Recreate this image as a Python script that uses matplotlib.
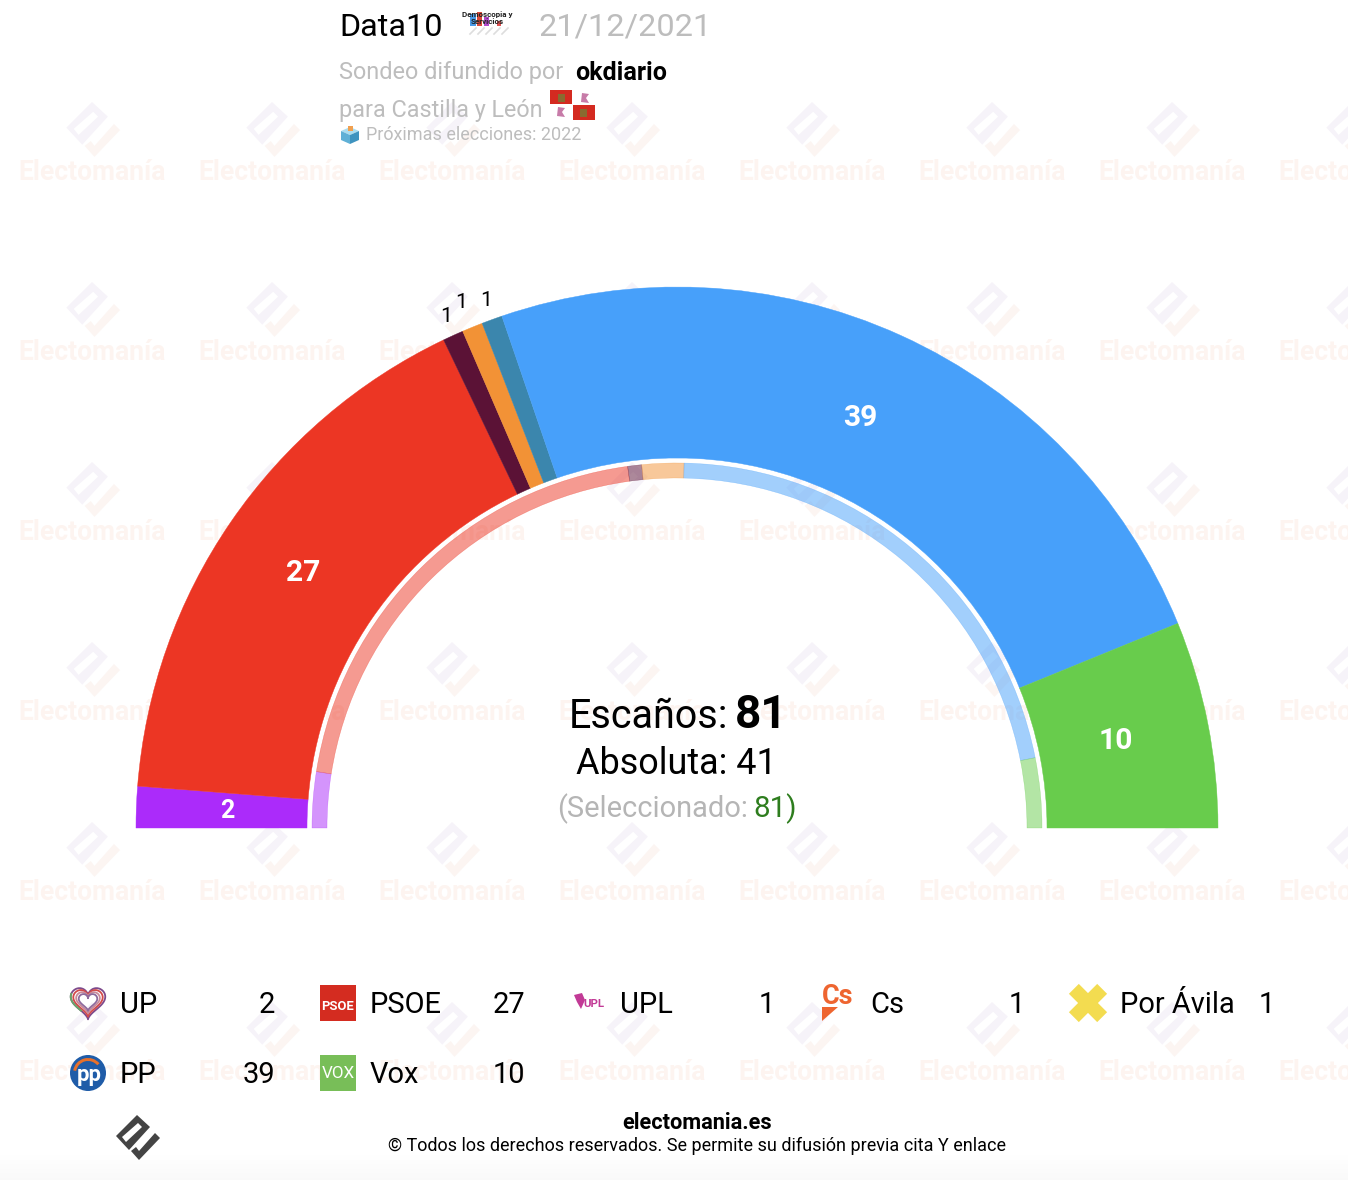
import numpy as np
import matplotlib
matplotlib.use("Agg")
import matplotlib.pyplot as plt
from matplotlib.patches import Wedge, Polygon, Rectangle, Circle

# ---- data ----
parties = ["UP", "PSOE", "UPL", "Cs", "Por Ávila", "PP", "Vox"]
seats = [2, 27, 1, 1, 1, 39, 10]
previous = [4, 33, 1, 3, 0, 35, 5]
colors = ["#AB2BFA", "#EC3624", "#5B1236", "#F29236", "#3B86AD", "#47A0FA", "#68CC4C"]
total_seats = 81
majority = 41
selected = 81

plt.rcParams["font.family"] = ["Roboto", "DejaVu Sans"]
W, H = 1348, 1180
fig = plt.figure(figsize=(W / 100, H / 100), dpi=100)
ax = fig.add_axes([0, 0, 1, 1])
ax.axis("off")

CX, CY = 677, 828


def px(size):
    return size * 0.72


# ---- bottom fade ----
ax.imshow(np.linspace(1, 0.975, 30)[:, None], extent=(0, W, 1180, 1150), cmap="gray",
          vmin=0, vmax=1, aspect="auto", zorder=0)
ax.set_xlim(0, W)
ax.set_ylim(H, 0)


# ---- watermark ----
def mark(x, y, u, c1, c2, z, slot="white"):
    """Electomania mark: x,y is the top corner of the body, u the scale."""
    body = [(0, 0), (13, 12), (-8, 35), (-21, 21)]
    groove = [(1, 8), (5, 12), (-11, 27), (-15, 22)]
    hook = [(18, 18), (23, 23), (2, 45), (-6, 36), (-1, 32), (2, 36)]
    for pts, col in ((body, c1), (groove, slot), (hook, c2)):
        ax.add_patch(Polygon([(x + a * u, y + b * u) for a, b in pts], fc=col, ec="none", zorder=z))


for gy in range(-10, 1180, 180):
    for gx in range(92, 1400, 180):
        mark(gx, gy + 112, 1.22, "#F6F3F9", "#FCF5F2", 1)
        ax.text(gx, gy + 182.5, "Electomanía", fontsize=px(26.5), fontweight="bold", color="#FDF4F0",
                ha="center", va="center", zorder=1)

# ---- hemicycle ----
R_OUT, R_IN = 541, 370
R2_OUT, R2_IN = 365, 350


def rings(values, cols, r_out, r_in, alpha, z):
    start = 0
    for v, c in zip(values, cols):
        if v > 0:
            t1 = 180 + start * 180 / total_seats
            t2 = 180 + (start + v) * 180 / total_seats
            ax.add_patch(Wedge((CX, CY), r_out, t1, t2, width=r_out - r_in, fc=c, ec=c,
                               lw=0.3, alpha=alpha, zorder=z))
        start += v


rings(seats, colors, R_OUT, R_IN, 1.0, 3)
rings(previous, colors, R2_OUT, R2_IN, 0.5, 3)

# seat labels
cum = np.cumsum([0] + seats)
R_LAB = 450
for i, v in enumerate(seats):
    mid = (cum[i] + cum[i + 1]) / 2 * np.pi / total_seats
    if v >= 2:
        x = CX - R_LAB * np.cos(mid) - (3 if v > 2 else 0)
        y = CY - R_LAB * np.sin(mid)
        ax.text(x, y, str(v), color="white", fontsize=px(30 if v > 2 else 25), fontweight="bold",
                ha="center", va="center", zorder=5)

# small labels above the thin wedges
for i, (dx, dy) in zip([2, 3, 4], [(446, 317), (461, 303), (486, 300)]):
    ax.text(dx, dy, str(seats[i]), color="black", fontsize=px(21), ha="center", va="center", zorder=5)

# ---- centre text ----
ax.text(569, 717, "Escaños:", fontsize=px(39.5), ha="left", va="center", color="black", zorder=6)
ax.text(735, 715, str(total_seats), fontsize=px(46), fontweight="bold", ha="left", va="center", color="black", zorder=6)
ax.text(676, 764, f"Absoluta: {majority}", fontsize=px(36), ha="center", va="center", color="black", zorder=6)
ax.text(557, 809, "(Seleccionado:", fontsize=px(29), ha="left", va="center", color="#B5B5B5", zorder=6)
ax.text(753, 809, f"{selected})", fontsize=px(29.5), ha="left", va="center", color="#2E7D1E", zorder=6)

# ---- header ----
ax.text(339, 27, "Data10", fontsize=px(32.4), ha="left", va="center", color="black", zorder=6)
ax.text(539, 27, "21/12/2021", fontsize=px(32.5), ha="left", va="center", color="#BDBDBD", zorder=6)
ax.text(339, 73, "Sondeo difundido por", fontsize=px(23.5), ha="left", va="center", color="#BDBDBD", zorder=6)
ax.text(575, 73, "okdiario", fontsize=px(25), fontweight="bold", ha="left", va="center", color="black", zorder=6)
ax.text(339, 111, "para Castilla y León", fontsize=px(23.4), ha="left", va="center", color="#BDBDBD", zorder=6)
ax.text(366, 135, "Próximas elecciones: 2022", fontsize=px(18), ha="left", va="center", color="#BDBDBD", zorder=6)

# pollster logo
for x0, w_, h_, c in [(470, 6, 12, "#4A9BE8"), (477, 5, 14, "#D94A3A"), (484, 5, 9, "#B04ACB"), (497, 4, 5, "#E05050")]:
    ax.add_patch(Rectangle((x0, 26 - h_), w_, h_, fc=c, ec="none", zorder=6))
for k in range(5):
    ax.plot([470 + k * 8, 476 + k * 8], [34, 28], color="#DDDDDD", lw=1.2, zorder=6)
ax.text(487, 14, "Demoscopia y", fontsize=px(8), fontweight="bold", ha="center", va="center", color="#222222", zorder=7)
ax.text(487, 22, "Servicios", fontsize=px(8), fontweight="bold", ha="center", va="center", color="#222222", zorder=7)

# flag of Castilla y León
ax.add_patch(Rectangle((550, 90), 22, 14, fc="#D42A20", ec="none", zorder=6))
ax.add_patch(Rectangle((573, 105), 22, 15, fc="#D42A20", ec="none", zorder=6))
ax.add_patch(Rectangle((558, 94), 7, 8, fc="#8A6A30", ec="none", zorder=7))
ax.add_patch(Rectangle((580, 109), 7, 8, fc="#8A6A30", ec="none", zorder=7))
for fx, fy in [(585, 98), (561, 112)]:
    ax.add_patch(Polygon([(fx - 3, fy - 5), (fx + 4, fy - 4), (fx + 1, fy), (fx + 4, fy + 5), (fx - 4, fy + 4)],
                         fc="#C77BA8", ec="none", zorder=7))

# ballot box icon
ax.add_patch(Polygon([(341, 131), (350, 127), (359, 131), (350, 135)], fc="#A9DCEF", ec="none", zorder=6))
ax.add_patch(Polygon([(341, 131), (350, 135), (350, 144), (341, 140)], fc="#5FB0D6", ec="none", zorder=6))
ax.add_patch(Polygon([(359, 131), (350, 135), (350, 144), (359, 140)], fc="#3E93BF", ec="none", zorder=6))
ax.add_patch(Rectangle((347.5, 126), 5, 5, fc="#F0A050", ec="none", zorder=7))

# ---- legend ----
legend_x = [70, 320, 570, 820, 1070]
legend_y = [1005, 1075]
value_right = [275, 525, 775, 1025, 1275]
for i, (p, v) in enumerate(zip(parties, seats)):
    r, c = i // 5, i % 5
    ax.text(legend_x[c] + 50, legend_y[r], p, fontsize=px(29), ha="left", va="center", color="black", zorder=6)
    ax.text(value_right[c], legend_y[r], str(v), fontsize=px(29), ha="right", va="center", color="black", zorder=6)

# UP heart
tt = np.linspace(0, 2 * np.pi, 80)
hx = 16 * np.sin(tt) ** 3
hy = -(13 * np.cos(tt) - 5 * np.cos(2 * tt) - 2 * np.cos(3 * tt) - np.cos(4 * tt))
for s, c in [(1.08, "#7D4A8C"), (0.92, "#D24A4A"), (0.74, "#C98A9A"), (0.58, "#8E6A9C")]:
    ax.plot(88 + hx * s, 1001 + hy * s, color=c, lw=1.3, zorder=6)
ax.plot(88 + hx[50:62] * 1.08, 1001 + hy[50:62] * 1.08, color="#6AA46A", lw=1.4, zorder=7)

# PSOE
ax.add_patch(Rectangle((320, 985), 36, 36, fc="#D42C20", ec="none", zorder=6))
ax.text(338, 1007, "PSOE", fontsize=px(13), fontweight="bold", color="white", ha="center", va="center", zorder=7)
# UPL
ax.text(594, 1004, "UPL", fontsize=px(11.5), fontweight="bold", color="#C23A96", ha="center", va="center", zorder=7)
ax.add_patch(Polygon([(574, 995), (582, 993), (585, 1000), (581, 1009), (577, 1002)], fc="#C23A96", ec="none", zorder=6))
# Cs
ax.text(838, 996, "Cs", fontsize=px(27), fontweight="bold", color="#EE6530", ha="center", va="center", zorder=7)
ax.add_patch(Polygon([(822, 1007), (838, 1007), (822, 1021)], fc="#EE6530", ec="none", zorder=6))
# Por Avila
for ang in (45, -45):
    a = np.deg2rad(ang)
    d = np.array([np.cos(a), np.sin(a)])
    n = np.array([-d[1], d[0]])
    cen = np.array([1088, 1003])
    pts = [cen + d * 20 + n * 7, cen + d * 20 - n * 7, cen - d * 20 - n * 7, cen - d * 20 + n * 7]
    ax.add_patch(Polygon(pts, fc="#F3DC50", ec="none", zorder=6))
# PP
ax.add_patch(Circle((88, 1073), 18, fc="#1F5CA8", ec="none", zorder=6))
ax.text(89, 1075, "pp", fontsize=px(22), fontweight="bold", color="white", ha="center", va="center", zorder=7)
ax.add_patch(Wedge((88, 1073), 15, 190, 320, width=3, fc="#E8702A", ec="none", zorder=7))
# Vox
ax.add_patch(Rectangle((320, 1055), 36, 36, fc="#78BE58", ec="none", zorder=6))
ax.text(338, 1073, "VOX", fontsize=px(17), color="white", ha="center", va="center", zorder=7)

# ---- footer ----
mark(137, 1115, 1.0, "#444444", "#444444", 6)
ax.text(697, 1123, "electomania.es", fontsize=px(21.8), fontweight="bold", ha="center", va="center", color="black", zorder=6)
ax.text(697, 1146, "© Todos los derechos reservados. Se permite su difusión previa cita Y enlace",
        fontsize=px(17.95), ha="center", va="center", color="black", zorder=6)

fig.savefig("out.png", dpi=100)
